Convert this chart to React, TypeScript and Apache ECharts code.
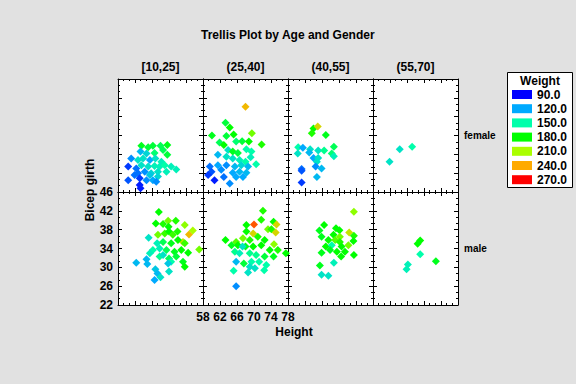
import React, { useEffect, useRef } from "react";
import * as echarts from "echarts";

// [height, bicep girth, weight]
const femaleA: number[][] = [
  [63.5, 31.8, 175], [65.1, 31.5, 170], [66.2, 31.8, 170], [68.0, 31.8, 165], [69.6, 32.0, 175],
  [63.3, 30.6, 125], [64.7, 30.2, 135], [66.6, 30.3, 160], [68.6, 30.9, 165], [69.6, 29.9, 170],
  [61.1, 29.1, 115], [62.7, 28.8, 140], [63.9, 29.1, 140], [65.5, 28.8, 120], [66.8, 29.1, 140],
  [68.2, 28.4, 145], [60.4, 27.4, 100], [62.3, 27.0, 110], [63.5, 27.7, 140], [65.1, 27.4, 140],
  [66.6, 27.5, 145], [67.8, 27.4, 145], [69.0, 27.7, 150], [70.5, 27.4, 145], [71.7, 26.8, 145],
  [62.7, 26.0, 110], [64.3, 26.3, 115], [65.8, 26.0, 135], [67.4, 26.3, 140], [69.4, 26.3, 145],
  [60.4, 24.5, 105], [63.1, 24.9, 100], [64.7, 24.5, 115], [66.2, 24.5, 120], [67.4, 25.3, 135],
  [63.1, 23.5, 95], [63.3, 22.8, 95], [61.9, 25.6, 110], [65.5, 25.6, 130], [67.0, 24.2, 115],
];
const femaleB: number[][] = [
  [68.0, 40.1, 235], [63.3, 36.7, 170], [64.3, 35.7, 180], [60.1, 34.0, 175], [63.5, 33.9, 170],
  [65.2, 34.2, 180], [69.5, 34.5, 200], [61.9, 32.5, 165], [62.9, 32.0, 180], [65.8, 32.7, 160],
  [67.2, 32.8, 170], [68.8, 32.7, 180], [71.8, 32.1, 185], [63.9, 30.9, 140], [65.0, 30.6, 175],
  [66.2, 30.3, 170], [68.2, 31.1, 150], [69.4, 30.6, 150], [61.5, 29.9, 125], [63.5, 29.5, 140],
  [65.0, 29.1, 140], [66.6, 28.8, 145], [68.0, 28.4, 150], [69.2, 29.4, 145], [70.5, 27.9, 150],
  [59.6, 27.4, 110], [61.5, 27.7, 120], [63.5, 27.7, 115], [65.5, 27.4, 125], [67.0, 27.7, 135],
  [68.6, 27.4, 125], [60.0, 26.3, 105], [62.3, 26.7, 115], [65.0, 26.1, 120], [66.6, 26.3, 125],
  [68.2, 26.1, 125], [59.2, 25.6, 100], [62.9, 25.2, 110], [65.8, 25.2, 120], [67.4, 25.2, 120],
  [60.7, 24.5, 95], [64.3, 23.8, 115],
];
const femaleC: number[][] = [
  [64.0, 35.5, 180], [65.0, 35.9, 225], [63.6, 34.5, 185], [66.9, 34.1, 175], [60.4, 31.5, 150],
  [61.5, 31.4, 120], [63.2, 31.1, 140], [65.1, 30.8, 140], [66.5, 30.8, 155], [68.8, 31.6, 165],
  [68.3, 30.2, 160], [68.8, 29.6, 145], [60.3, 30.2, 140], [63.0, 30.4, 125], [64.0, 29.2, 120],
  [65.1, 29.2, 140], [64.8, 28.4, 140], [64.5, 27.4, 115], [65.9, 27.0, 125], [61.2, 26.9, 110],
  [61.2, 26.5, 105], [64.8, 25.2, 125], [61.2, 24.0, 100],
];
const femaleD: number[][] = [
  [61.9, 28.4, 140], [64.3, 31.1, 140], [67.2, 31.6, 150],
];
const maleA: number[][] = [
  [67.6, 41.75, 180], [66.9, 39.3, 180], [68.6, 39.2, 185], [69.8, 39.9, 200], [71.6, 39.9, 185],
  [73.7, 39.0, 205], [67.4, 36.9, 200], [69.0, 37.2, 190], [69.9, 38.6, 180], [70.0, 37.6, 180],
  [70.9, 36.9, 190], [72.0, 37.6, 185], [74.7, 37.0, 235], [75.6, 37.8, 210], [73.3, 35.4, 220],
  [65.2, 36.3, 140], [67.2, 35.1, 145], [68.6, 35.4, 165], [70.5, 35.1, 175], [72.1, 35.8, 180],
  [73.7, 35.1, 190], [66.2, 33.7, 150], [67.8, 34.0, 145], [69.4, 33.7, 165], [71.3, 33.3, 175],
  [72.9, 33.7, 180], [74.5, 33.1, 180], [77.1, 33.8, 200], [65.5, 33.0, 145], [67.8, 32.3, 155],
  [70.0, 31.9, 165], [71.7, 32.3, 170], [73.3, 31.2, 175], [73.7, 30.1, 180], [62.3, 31.0, 125],
  [64.7, 31.7, 125], [64.9, 30.7, 125], [68.6, 32.6, 140], [70.5, 31.2, 150], [69.8, 30.8, 130],
  [66.8, 29.6, 130], [67.3, 28.7, 125], [70.0, 29.1, 140], [68.0, 27.9, 140], [66.6, 27.3, 120],
];
const maleB: number[][] = [
  [72.1, 42.0, 185], [70.0, 39.1, 255], [68.2, 39.0, 180], [71.7, 40.1, 185], [74.6, 39.7, 180],
  [75.3, 39.1, 225], [69.8, 37.2, 225], [68.2, 37.6, 180], [73.3, 38.1, 200], [74.1, 38.1, 185],
  [75.1, 37.4, 225], [63.3, 35.8, 180], [65.8, 35.4, 195], [67.4, 36.2, 200], [69.0, 35.8, 185],
  [70.9, 36.5, 185], [72.5, 35.8, 180], [74.7, 34.9, 205], [64.7, 34.7, 175], [66.2, 34.7, 180],
  [68.0, 34.4, 175], [69.8, 34.4, 180], [71.7, 34.7, 180], [73.7, 33.7, 180], [75.6, 33.7, 185],
  [77.5, 33.0, 180], [67.3, 34.4, 140], [65.5, 33.3, 155], [66.6, 33.0, 145], [69.0, 33.0, 155],
  [70.5, 32.6, 155], [72.5, 32.3, 170], [74.6, 32.3, 175], [65.8, 31.2, 125], [67.6, 30.8, 170],
  [69.4, 31.2, 150], [71.2, 31.2, 150], [72.9, 30.5, 150], [69.0, 30.1, 140], [70.2, 29.8, 140],
  [72.4, 29.4, 150], [65.2, 29.3, 150], [68.6, 28.9, 140], [65.8, 26.0, 115],
];
const maleC: number[][] = [
  [73.5, 41.8, 205], [66.5, 39.0, 180], [65.4, 37.8, 175], [69.3, 38.3, 180], [70.1, 37.9, 180],
  [65.9, 36.5, 175], [68.7, 36.9, 180], [70.2, 36.5, 200], [72.4, 37.4, 220], [73.5, 36.7, 185],
  [67.5, 35.8, 180], [69.1, 35.8, 195], [70.2, 35.4, 185], [73.4, 35.6, 180], [66.9, 34.4, 180],
  [68.3, 34.7, 150], [70.6, 34.4, 180], [72.2, 34.7, 200], [67.9, 33.7, 175], [69.5, 33.3, 180],
  [71.4, 33.3, 180], [73.5, 32.6, 180], [65.9, 33.1, 175], [70.5, 32.3, 180], [68.8, 31.0, 145],
  [65.5, 30.4, 175], [65.9, 28.4, 140], [67.5, 28.2, 140],
];
const maleD: number[][] = [
  [68.5, 35.0, 180], [69.1, 35.7, 180], [69.1, 32.8, 150], [72.8, 31.3, 175], [66.2, 30.6, 145],
  [65.9, 29.6, 145],
];

const ageGroups = ["[10,25]", "(25,40]", "(40,55]", "(55,70]"];
const genders = ["female", "male"];
const panelData = [femaleA, femaleB, femaleC, femaleD, maleA, maleB, maleC, maleD];
const weightLevels = [90, 120, 150, 180, 210, 240, 270];
const weightColors = ["#0000ff", "#00aaff", "#00ffaa", "#00ff00", "#aaff00", "#ffaa00", "#ff0000"];
const xTicks = { min: 58, max: 78, interval: 4 };
const yTicks = { min: 22, max: 46, interval: 4 };

const FONT = "'Liberation Sans', Arial, sans-serif";

export default function App() {
  const ref = useRef<HTMLDivElement>(null);
  useEffect(() => {
    if (!ref.current) return;
    document.body.style.margin = "0";
    const chart = echarts.init(ref.current, null, { renderer: "svg" });
    const colLefts = [118, 203, 288, 373];
    const rowTops = [79, 192];
    const W = 85;
    const H = 113;
    const grids: any[] = [];
    const xAxes: any[] = [];
    const yAxes: any[] = [];
    const series: any[] = [];
    const tickStyle = { show: true, inside: true, length: 4, lineStyle: { color: "#000", width: 1 } };
    const minor = { show: true, splitNumber: 3, length: 2, lineStyle: { color: "#000", width: 1 } };
    const line = { show: true, onZero: false, lineStyle: { color: "#000", width: 1 } };
    panelData.forEach((data, i) => {
      const r = Math.floor(i / 4);
      const c = i % 4;
      grids.push({
        left: colLefts[c], top: rowTops[r], width: W, height: H,
        show: true, backgroundColor: "#ffffff", borderWidth: 0,
      });
      const showX = r === 1 && c === 1;
      const showY = r === 1 && c === 0;
      xAxes.push({
        type: "value", gridIndex: i, position: "bottom", ...xTicks,
        axisLine: line, axisTick: tickStyle, minorTick: minor, splitLine: { show: false },
        axisLabel: {
          show: showX, color: "#000", fontFamily: FONT, fontWeight: "bold", fontSize: 12, margin: 6,
          showMinLabel: true, showMaxLabel: true,
        },
      });
      xAxes.push({
        type: "value", gridIndex: i, position: "top", ...xTicks,
        axisLine: line, axisTick: tickStyle, minorTick: minor, splitLine: { show: false },
        axisLabel: { show: false },
      });
      yAxes.push({
        type: "value", gridIndex: i, position: "left", ...yTicks,
        axisLine: line, axisTick: tickStyle, minorTick: minor, splitLine: { show: false },
        axisLabel: {
          show: showY, color: "#000", fontFamily: FONT, fontWeight: "bold", fontSize: 12, margin: 5,
          showMinLabel: true, showMaxLabel: true,
        },
      });
      yAxes.push({
        type: "value", gridIndex: i, position: "right", ...yTicks,
        axisLine: line, axisTick: tickStyle, minorTick: minor, splitLine: { show: false },
        axisLabel: { show: false },
      });
      series.push({
        type: "scatter", xAxisIndex: 2 * i, yAxisIndex: 2 * i, data,
        symbol: "diamond", symbolSize: 8, itemStyle: { opacity: 1 },
      });
    });

    const graphics: any[] = [
      {
        type: "text", left: "center", top: 29,
        style: { text: "Trellis Plot by Age and Gender", font: `bold 12px ${FONT}`, fill: "#000" },
      },
      {
        type: "text", x: 294, y: 332,
        style: { text: "Height", font: `bold 12px ${FONT}`, fill: "#000", align: "center", verticalAlign: "middle" },
      },
      {
        type: "text", x: 90, y: 190, rotation: Math.PI / 2,
        style: { text: "Bicep girth", font: `bold 12px ${FONT}`, fill: "#000", align: "center", verticalAlign: "middle" },
      },
    ];
    ageGroups.forEach((g, c) => {
      graphics.push({
        type: "text", x: colLefts[c] + W / 2, y: 67,
        style: { text: g, font: `bold 12px ${FONT}`, fill: "#000", align: "center", verticalAlign: "middle" },
      });
    });
    genders.forEach((g, r) => {
      graphics.push({
        type: "text", x: 464, y: rowTops[r] + H / 2,
        style: { text: g, font: `bold 10px ${FONT}`, fill: "#000", align: "left", verticalAlign: "middle" },
      });
    });
    graphics.push({
      type: "rect", shape: { x: 507.5, y: 72.5, width: 65, height: 115 },
      style: { fill: "#ffffff", stroke: "#000", lineWidth: 1 },
    });
    graphics.push({
      type: "text", x: 540, y: 81,
      style: { text: "Weight", font: `bold 12px ${FONT}`, fill: "#000", align: "center", verticalAlign: "middle" },
    });
    weightLevels.forEach((w, k) => {
      const yc = 94.5 + k * 14.2;
      graphics.push({
        type: "rect", shape: { x: 512, y: yc - 4.5, width: 20, height: 9 },
        style: { fill: weightColors[k] },
      });
      graphics.push({
        type: "text", x: 537, y: yc,
        style: { text: w.toFixed(1), font: `bold 12px ${FONT}`, fill: "#000", align: "left", verticalAlign: "middle" },
      });
    });

    chart.setOption({
      animation: false,
      backgroundColor: "#e1e1e1",
      grid: grids,
      xAxis: xAxes,
      yAxis: yAxes,
      visualMap: {
        type: "continuous", show: false, dimension: 2, min: 90, max: 270,
        inRange: { color: weightColors },
      },
      series,
      graphic: graphics,
    });
    return () => chart.dispose();
  }, []);
  return (
    <div
      ref={ref}
      style={{ position: "fixed", left: 0, top: 0, width: 576, height: 384 }}
    />
  );
}
